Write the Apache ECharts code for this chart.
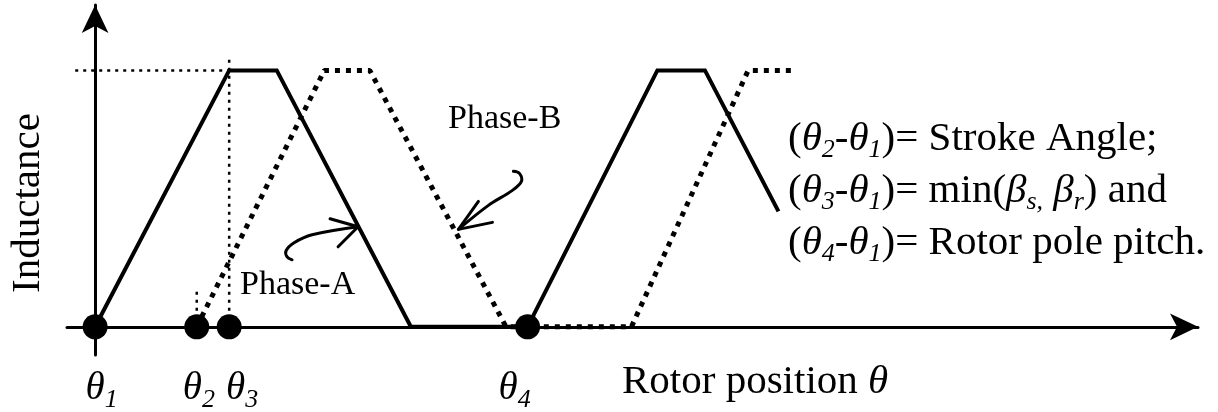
<!DOCTYPE html>
<html>
<head>
<meta charset="utf-8">
<script src="https://cdn.jsdelivr.net/npm/echarts@6/dist/echarts.min.js"></script>
<style>
  html, body { margin: 0; padding: 0; background: #fff; }
  #chart { width: 1218px; height: 412px; }
</style>
</head>
<body>
<div id="chart"></div>
<script>
// Rotor position in angle units with θ1 = 0 and rotor pole pitch = 100;
// inductance normalised so that the aligned (maximum) value is 1.
const phaseA = [[0, 0], [31, 1], [42, 1], [73, 0], [100, 0], [130, 1], [141, 1], [158, 0.45]];
const phaseB = [[23.5, 0], [53, 1], [63.5, 1], [95, 0], [124, 0], [151, 1], [162, 1]];

// Characteristic rotor angles θ1..θ4 and the positions of their labels
const thetaValues = [0, 23.5, 31, 100];
const thetaIndex = ['1', '2', '3', '4'];
const thetaLabelX = [1.5, 24, 34, 97];
const thetaLabelY = -0.243;

// Dotted construction lines
const peakGuide = [[-4.6, 1], [31, 1]];
const theta3Guide = [[31, 0], [31, 1.055]];
const theta2Guide = [[23.5, 0], [23.5, 0.15]];

// Points where the "Phase-A" / "Phase-B" pointers touch their curves
const pointerA = [60.8, 0.39];
const pointerB = [84, 0.38];

const SERIF = '"Liberation Serif", "Times New Roman", serif';
const BIG = 41;
const SUB = 26;

const chart = echarts.init(document.getElementById('chart'), null, { renderer: 'canvas' });

const guideStyle = { color: '#000', width: 2.5, type: [3, 5], cap: 'butt' };

const option = {
  animation: false,
  backgroundColor: '#fff',
  grid: { left: 67, right: 20, top: 5, bottom: 57 },
  xAxis: {
    type: 'value', min: -6.5, max: 255,
    axisLine: { onZero: true, symbol: ['none', 'arrow'], symbolSize: [20, 28],
      lineStyle: { color: '#000', width: 3 } },
    axisTick: { show: false }, axisLabel: { show: false }, splitLine: { show: false }
  },
  yAxis: {
    type: 'value', min: -0.11, max: 1.255,
    axisLine: { onZero: true, symbol: ['none', 'arrow'], symbolSize: [20, 28],
      lineStyle: { color: '#000', width: 3 } },
    axisTick: { show: false }, axisLabel: { show: false }, splitLine: { show: false }
  },
  series: [
    { type: 'line', data: peakGuide, symbol: 'none', silent: true, lineStyle: guideStyle, z: 1 },
    { type: 'line', data: theta3Guide, symbol: 'none', silent: true, lineStyle: guideStyle, z: 1 },
    { type: 'line', data: theta2Guide, symbol: 'none', silent: true, lineStyle: guideStyle, z: 1 },
    {
      name: 'Phase-B', type: 'line', data: phaseB, symbol: 'none', silent: true, clip: false,
      lineStyle: { color: '#000', width: 5, type: [5, 6], cap: 'butt' }, z: 2
    },
    {
      name: 'Phase-A', type: 'line', data: phaseA, symbol: 'none', silent: true, clip: false,
      lineStyle: { color: '#000', width: 4, cap: 'butt', join: 'miter' }, z: 3
    },
    {
      type: 'scatter', data: thetaValues.map(v => [v, 0]), symbol: 'circle', symbolSize: 25,
      itemStyle: { color: '#000', opacity: 1 }, silent: true, clip: false, z: 4
    },
    {
      type: 'scatter', silent: true, clip: false, symbol: 'circle', symbolSize: 2, z: 5,
      itemStyle: { color: 'rgba(255,255,255,0)', opacity: 1 },
      data: thetaLabelX.map((x, i) => ({ value: [x, thetaLabelY], name: thetaIndex[i] })),
      label: {
        show: true, position: 'inside', color: '#000',
        formatter: p => '{t|θ}{s|' + p.name + '}',
        rich: {
          t: { fontFamily: SERIF, fontStyle: 'italic', fontSize: 39, lineHeight: 40, color: '#000' },
          s: { fontFamily: SERIF, fontStyle: 'italic', fontSize: SUB, lineHeight: SUB,
               padding: [22, 0, 0, 0], color: '#000' }
        }
      }
    }
  ]
};
chart.setOption(option);

// Rich text styles for the serif annotations
const richStyles = {
  p: { fontFamily: SERIF, fontSize: BIG, lineHeight: 52, fill: '#000' },
  t: { fontFamily: SERIF, fontStyle: 'italic', fontSize: BIG, lineHeight: 52, fill: '#000' },
  s: { fontFamily: SERIF, fontStyle: 'italic', fontSize: SUB, lineHeight: SUB,
       padding: [23, 0, 0, 0], fill: '#000' }
};

const legendText = [
  '{p|(}{t|θ}{s|2}{p|-}{t|θ}{s|1}{p|)= Stroke Angle;}',
  '{p|(}{t|θ}{s|3}{p|-}{t|θ}{s|1}{p|)= min(}{t|β}{s|s,}{p| }{t|β}{s|r}{p|) and}',
  '{p|(}{t|θ}{s|4}{p|-}{t|θ}{s|1}{p|)= Rotor pole pitch.}'
].join('\n');

function offsetPoints(origin, rel) {
  return rel.map(d => [origin[0] + d[0], origin[1] + d[1]]);
}

const tipA = chart.convertToPixel({ gridIndex: 0 }, pointerA);
const tipB = chart.convertToPixel({ gridIndex: 0 }, pointerB);
const arrowStyle = { stroke: '#000', lineWidth: 3, fill: null, lineCap: 'round', lineJoin: 'round' };

chart.setOption({
  graphic: [
    {
      type: 'text', x: 28, y: 203, rotation: Math.PI / 2,
      style: { text: 'Inductance', font: BIG + 'px ' + SERIF, fill: '#000',
               align: 'center', verticalAlign: 'middle' }
    },
    {
      type: 'text', x: 622, y: 382,
      style: { text: '{p|Rotor position }{t|θ}', rich: richStyles,
               align: 'left', verticalAlign: 'middle' }
    },
    {
      type: 'text', x: 240, y: 285,
      style: { text: 'Phase-A', font: '34px ' + SERIF, fill: '#000',
               align: 'left', verticalAlign: 'middle' }
    },
    {
      type: 'text', x: 448, y: 119,
      style: { text: 'Phase-B', font: '34px ' + SERIF, fill: '#000',
               align: 'left', verticalAlign: 'middle' }
    },
    {
      type: 'text', x: 788, y: 113,
      style: { text: legendText, rich: richStyles, align: 'left', verticalAlign: 'top' }
    },
    // Phase-A pointer: curled tail and open arrow head
    {
      type: 'polyline', silent: true,
      shape: { points: offsetPoints(tipA, [[-66, 33], [-71, 30], [-72, 24], [-64, 16], [-46, 8], [0, 0]]), smooth: 0.35 },
      style: arrowStyle
    },
    {
      type: 'polyline', silent: true,
      shape: { points: offsetPoints(tipA, [[-28, -8], [0, 0], [-20, 20]]) },
      style: arrowStyle
    },
    // Phase-B pointer
    {
      type: 'polyline', silent: true,
      shape: { points: offsetPoints(tipB, [[0, 0], [30, -24], [54, -39], [63, -48], [61, -56], [55, -58]]), smooth: 0.35 },
      style: arrowStyle
    },
    {
      type: 'polyline', silent: true,
      shape: { points: offsetPoints(tipB, [[20, -28], [0, 0], [34, -7]]) },
      style: arrowStyle
    }
  ]
});
</script>
</body>
</html>
